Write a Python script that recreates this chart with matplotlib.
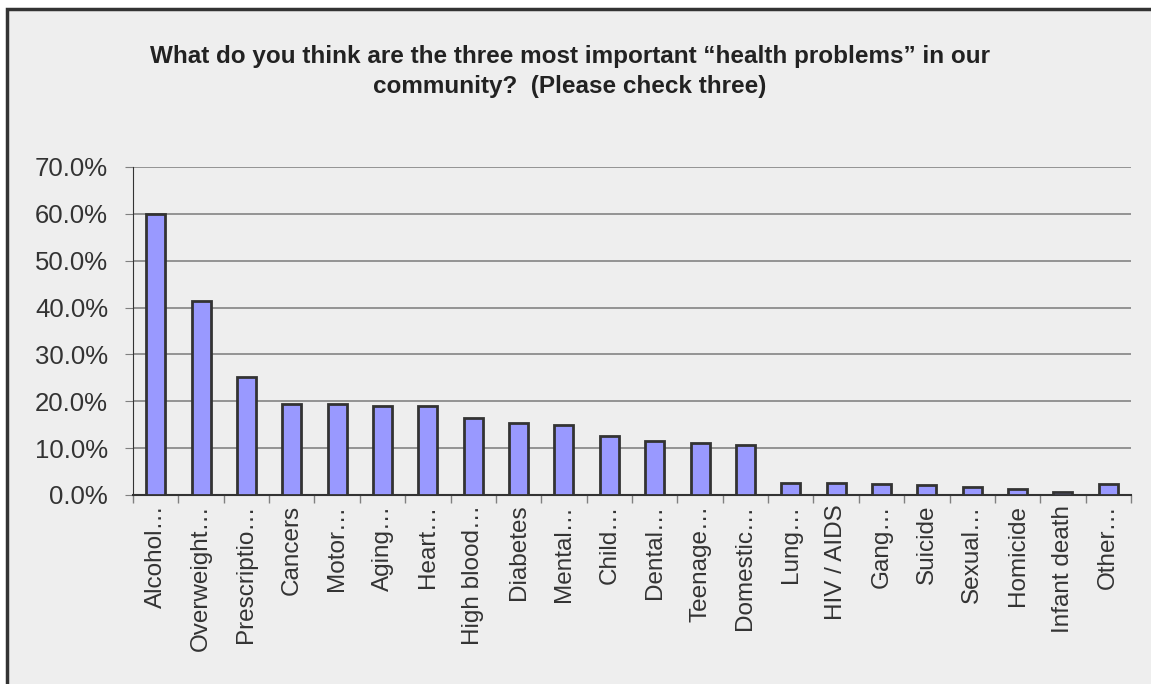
import numpy as np
import matplotlib.pyplot as plt
from matplotlib.patches import Rectangle
from matplotlib.ticker import FuncFormatter, FixedLocator

plt.rcParams['font.family'] = ['Liberation Sans', 'DejaVu Sans']

# survey answers (share of respondents)
categories = ['Alcohol…', 'Overweight…', 'Prescriptio…', 'Cancers', 'Motor…', 'Aging…',
              'Heart…', 'High blood…', 'Diabetes', 'Mental…', 'Child…', 'Dental…',
              'Teenage…', 'Domestic…', 'Lung…', 'HIV / AIDS', 'Gang…', 'Suicide',
              'Sexual…', 'Homicide', 'Infant death', 'Other…']
values = [60.0, 41.4, 25.2, 19.4, 19.4, 19.0, 19.0, 16.4, 15.4, 14.9, 12.6, 11.5,
          11.2, 10.6, 2.6, 2.6, 2.3, 2.1, 1.8, 1.3, 0.6, 2.3]
yticks = [0, 10, 20, 30, 40, 50, 60, 70]

title_lines = ['What do you think are the three most important \u201chealth problems\u201d in our',
               'community?  (Please check three)']

bg = '#eeeeee'
W, H = 1151, 684
fig = plt.figure(figsize=(W / 100, H / 100), dpi=100)
fig.patch.set_facecolor('white')

# chart frame (extends past the right / bottom edge)
fig.patches.append(Rectangle((7 / W, -0.05), 1.1, 1 - 9 / H + 0.05, transform=fig.transFigure,
                             facecolor=bg, edgecolor='#333333', linewidth=2.5, zorder=-5))

ax = fig.add_axes([133 / W, 1 - 495 / H, (1131 - 133) / W, (495 - 167) / H])
ax.set_facecolor(bg)

x = np.arange(len(categories))
ax.bar(x, values, width=0.42, color='#9999ff', edgecolor='#333333', linewidth=2, zorder=3)

ax.set_xlim(-0.5, len(categories) - 0.5)
ax.set_ylim(0, 70)
ax.set_yticks(yticks)
ax.yaxis.set_major_formatter(FuncFormatter(lambda v, p: '%.1f%%' % v))
ax.yaxis.grid(True, color='#7a7a7a', linewidth=1.1, zorder=0)
ax.set_axisbelow(True)

ax.set_xticks(x)
ax.set_xticklabels(categories, rotation=90, fontsize=17.5, color='#333333')
ax.tick_params(axis='x', which='major', length=0, pad=7)
ax.xaxis.set_minor_locator(FixedLocator(np.arange(-0.5, len(categories), 1)))
ax.tick_params(axis='x', which='minor', length=6, color='#808080', width=1)
ax.tick_params(axis='y', length=6, color='#808080', labelsize=18.5, labelcolor='#333333', pad=12)

for s in ['top', 'right']:
    ax.spines[s].set_visible(False)
ax.spines['left'].set_color('#333333')
ax.spines['bottom'].set_color('#333333')
ax.spines['bottom'].set_linewidth(1.5)

for i, line in enumerate(title_lines):
    fig.text(570 / W, 1 - (57 + 29 * i) / H, line, ha='center', va='center', fontsize=17.5,
             fontweight='bold', color='#222222')

fig.savefig('out.png', dpi=100, facecolor='white')
